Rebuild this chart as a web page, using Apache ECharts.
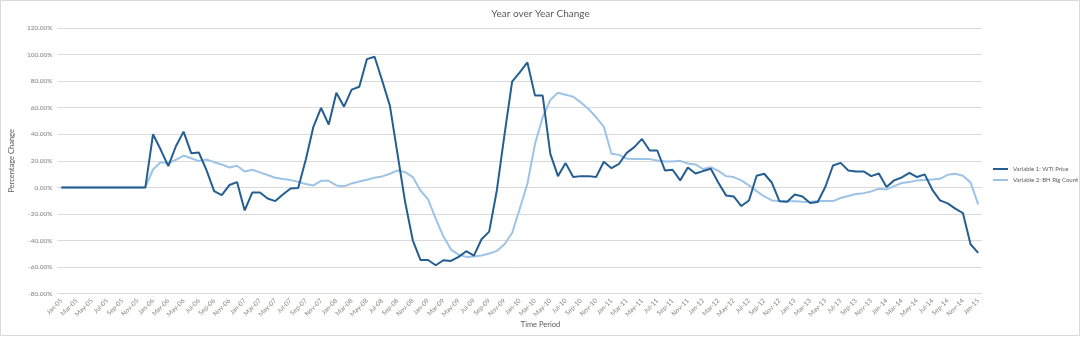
<!DOCTYPE html>
<html>
<head>
<meta charset="utf-8">
<script src="https://cdn.jsdelivr.net/npm/echarts@6/dist/echarts.min.js"></script>
<style>html,body{margin:0;padding:0;background:#fff;}#c{width:1081px;height:337px;}</style>
</head>
<body>
<div id="c"></div>
<script>
const categories = [
"Jan-05","Feb-05","Mar-05","Apr-05","May-05","Jun-05","Jul-05","Aug-05","Sep-05","Oct-05","Nov-05","Dec-05",
"Jan-06","Feb-06","Mar-06","Apr-06","May-06","Jun-06","Jul-06","Aug-06","Sep-06","Oct-06","Nov-06","Dec-06",
"Jan-07","Feb-07","Mar-07","Apr-07","May-07","Jun-07","Jul-07","Aug-07","Sep-07","Oct-07","Nov-07","Dec-07",
"Jan-08","Feb-08","Mar-08","Apr-08","May-08","Jun-08","Jul-08","Aug-08","Sep-08","Oct-08","Nov-08","Dec-08",
"Jan-09","Feb-09","Mar-09","Apr-09","May-09","Jun-09","Jul-09","Aug-09","Sep-09","Oct-09","Nov-09","Dec-09",
"Jan-10","Feb-10","Mar-10","Apr-10","May-10","Jun-10","Jul-10","Aug-10","Sep-10","Oct-10","Nov-10","Dec-10",
"Jan-11","Feb-11","Mar-11","Apr-11","May-11","Jun-11","Jul-11","Aug-11","Sep-11","Oct-11","Nov-11","Dec-11",
"Jan-12","Feb-12","Mar-12","Apr-12","May-12","Jun-12","Jul-12","Aug-12","Sep-12","Oct-12","Nov-12","Dec-12",
"Jan-13","Feb-13","Mar-13","Apr-13","May-13","Jun-13","Jul-13","Aug-13","Sep-13","Oct-13","Nov-13","Dec-13",
"Jan-14","Feb-14","Mar-14","Apr-14","May-14","Jun-14","Jul-14","Aug-14","Sep-14","Oct-14","Nov-14","Dec-14",
"Jan-15"
];

const seriesNames = ["Variable 1: WTI Price", "Variable 2: BH Rig Count"];

const wtiPrice = [
0,0,0,0,0,0,0,0,0,0,0,0,
40,28.5,16,31,42,25.8,26.3,13,-2.8,-5.8,1.8,4,
-17.3,-3.8,-3.8,-8.3,-10.3,-5.3,-0.8,-0.5,21,45.8,59.8,47.3,
71.3,60.8,73.6,75.8,96.6,98.4,80.3,61.6,25.3,-11,-39.8,-54.6,
-54.6,-58.6,-54.8,-55.3,-52.3,-48,-51.3,-39,-33.3,-2.3,39.5,79.6,
86.6,94.1,69.1,69.1,25.3,8.5,18.3,7.8,8.5,8.5,7.8,19.3,
14.5,17.8,26,30.3,36.5,27.8,27.8,12.8,13.3,5.3,15,10.5,
12.3,14,3.5,-6,-6.8,-14,-9.8,8.8,10.3,3.5,-10.5,-10.8,
-5.3,-6.8,-11.8,-11,0.5,16.5,18.5,12.8,12,12,8.5,10.5,
0.3,5.3,7.5,11,7.8,9.8,-1.8,-9.8,-12,-16,-19.3,-42.8,
-49.3
];

const rigCount = [
0,0,0,0,0,0,0,0,0,0,0,0,
13.5,19,18.3,20.8,24,22,19.8,21,19,17.3,15,16.3,
12,13.3,11.3,9.3,7.3,6.3,5.5,4.3,2.5,1.5,5,5,
1.5,0.8,3,4.4,5.8,7.3,8.3,10.3,12.8,11.5,7.8,-2.3,
-9,-23.5,-36.8,-46.8,-50.6,-52.3,-52,-51.3,-49.8,-47.8,-42.8,-34.3,
-16,2.8,32.8,52.8,65.8,71.3,69.8,68.3,64,59,52.8,45.8,
25.3,24.5,21.5,21.3,21.3,21.3,20.3,19.5,19.5,20,18,17.3,
13.8,15.3,12.5,8.5,7.8,5.3,1.5,-2.8,-6.8,-9.8,-10.3,-10.5,
-10.5,-10.8,-11,-10.3,-10.3,-10.3,-8,-6.5,-5,-4.3,-3,-1,
-1.5,1,3.3,4,5.3,5.5,6,6.5,9.5,10.3,8.8,3.8,
-12.8
];

const yTicks = { min: -80, max: 120, interval: 20 };

const FONT = 'Lato, "Open Sans", sans-serif';
const chart = echarts.init(document.getElementById('c'), null, { renderer: 'canvas' });
chart.setOption({
  backgroundColor: '#ffffff',
  animation: false,
  textStyle: { fontFamily: FONT },
  title: [
    { text: 'Year over Year Change', left: 'center', top: 4,
      textStyle: { fontFamily: FONT, fontSize: 10, fontWeight: 'normal', color: '#595959' } },
    { text: 'Time Period', left: 'center', top: 316,
      textStyle: { fontFamily: FONT, fontSize: 7.5, fontWeight: 'normal', color: '#595959' } }
  ],
  graphic: [
    { type: 'rect', shape: { x: 0.5, y: 0.5, width: 1079, height: 335 },
      style: { fill: 'none', stroke: '#d9d9d9', lineWidth: 1 }, silent: true }
  ],
  legend: {
    orient: 'vertical', left: 993, top: 166, itemGap: 5,
    itemWidth: 15, itemHeight: 2, icon: 'rect', padding: 0,
    textStyle: { fontFamily: FONT, fontSize: 6, color: '#595959' },
    data: seriesNames
  },
  grid: { left: 47, top: 28, width: 935, height: 265.7, containLabel: false },
  xAxis: {
    type: 'category', data: categories, boundaryGap: true,
    axisLine: { lineStyle: { color: '#d9d9d9', width: 1 } },
    axisTick: { show: false },
    axisLabel: { interval: 1, rotate: 45, fontSize: 6.5, color: '#8a8580', margin: 6, fontFamily: FONT },
    splitLine: { show: false }
  },
  yAxis: {
    type: 'value', min: yTicks.min, max: yTicks.max, interval: yTicks.interval,
    name: 'Percentage Change', nameLocation: 'middle', nameGap: 23, nameRotate: 90,
    nameTextStyle: { fontFamily: FONT, fontSize: 7.5, color: '#595959' },
    axisLine: { show: false }, axisTick: { show: false },
    axisLabel: { fontSize: 6.5, color: '#7f7f7f', margin: 5, fontFamily: FONT,
      formatter: v => v.toFixed(2) + '%' },
    splitLine: { lineStyle: { color: '#d9d9d9', width: 1 } }
  },
  series: [
    { name: seriesNames[0], type: 'line', data: wtiPrice, showSymbol: false, symbol: 'none',
      lineStyle: { color: '#255e91', width: 2 }, itemStyle: { color: '#255e91' }, z: 3 },
    { name: seriesNames[1], type: 'line', data: rigCount, showSymbol: false, symbol: 'none',
      lineStyle: { color: '#9dc3e6', width: 2 }, itemStyle: { color: '#9dc3e6' }, z: 2 }
  ]
});
</script>
</body>
</html>
